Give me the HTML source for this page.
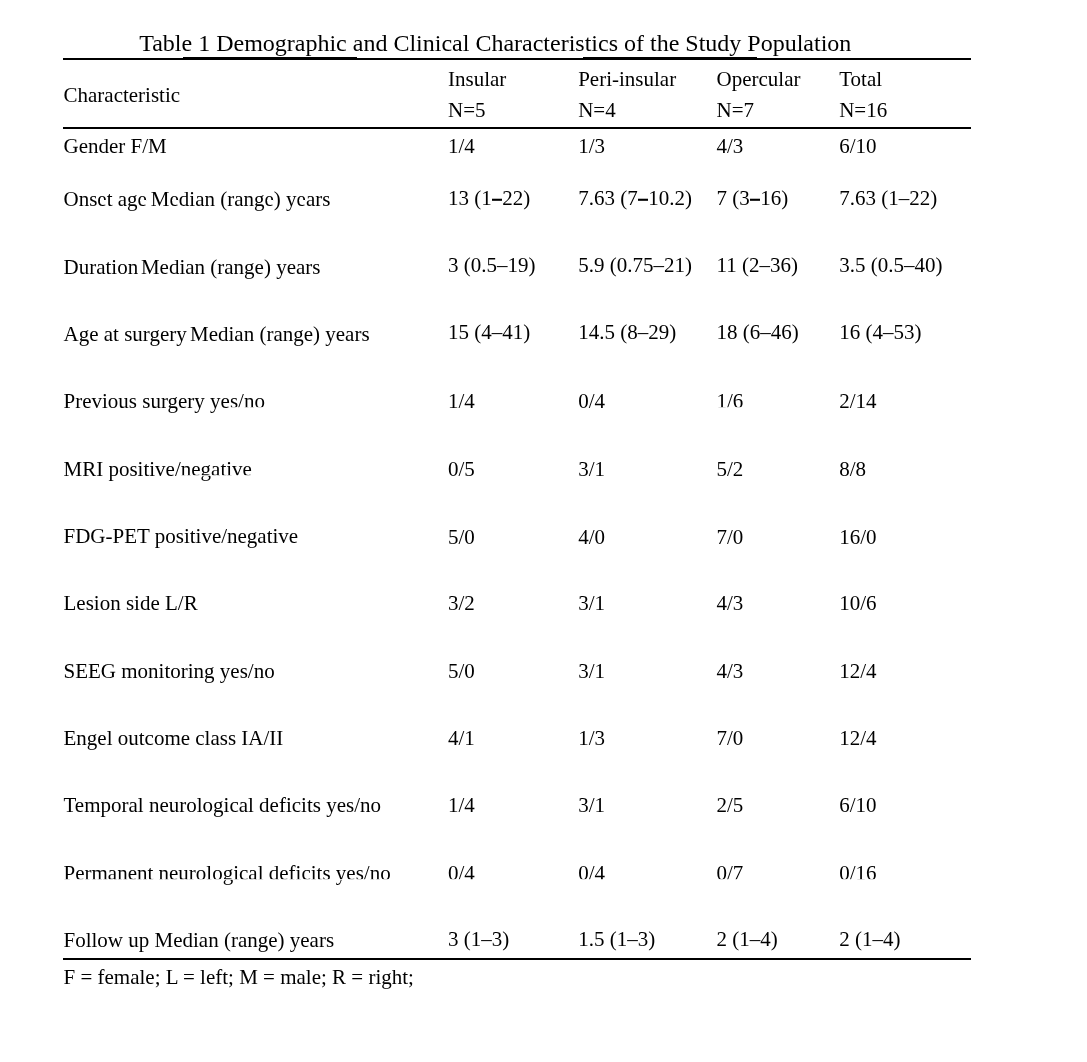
<!DOCTYPE html>
<html><head><meta charset="utf-8"><title>Table 1</title>
<style>
html,body{margin:0;padding:0;background:#fff;}
body{width:1087px;height:1062px;position:relative;overflow:hidden;will-change:transform;font-family:"Liberation Serif",serif;color:#000;}
.t{position:absolute;font-size:21px;line-height:24px;height:24px;white-space:nowrap;}
.g{display:block;transform:scaleY(1.045);transform-origin:0 19.09px;}
.title{position:absolute;font-size:24px;line-height:28px;white-space:nowrap;transform:scaleY(1.0);transform-origin:0 22.1px;}
.r{position:absolute;background:#000;}
.w{position:absolute;height:1px;background:#fff;}
s{text-decoration:none;}
.bd{display:inline-block;width:10.5px;height:1.9px;background:#000;vertical-align:4.5px;}
</style></head><body>
<div class="title" style="left:139.2px;top:29px;">Table 1 Demographic and Clinical Characteristics of the Study Population</div>
<div class="r" style="left:63px;top:58px;width:908px;height:2px;"></div>
<div class="r" style="left:183px;top:57px;width:174px;height:2px;"></div>
<div class="r" style="left:583px;top:57px;width:174px;height:2px;"></div>
<div class="r" style="left:63px;top:127px;width:908px;height:2px;"></div>
<div class="r" style="left:63px;top:958px;width:908px;height:2px;"></div>
<div class="t" style="left:63.5px;top:83.01px;"><span class="g">Characteristic</span></div>
<div class="t" style="left:448px;top:67.01px;"><span class="g">Insular</span></div>
<div class="t" style="left:448px;top:98.01px;"><span class="g">N=5</span></div>
<div class="t" style="left:578.2px;top:67.01px;"><span class="g">Peri-insular</span></div>
<div class="t" style="left:578.2px;top:98.01px;"><span class="g">N=4</span></div>
<div class="t" style="left:716.5px;top:67.01px;"><span class="g">Opercular</span></div>
<div class="t" style="left:716.5px;top:98.01px;"><span class="g">N=7</span></div>
<div class="t" style="left:839.2px;top:67.01px;"><span class="g">Total</span></div>
<div class="t" style="left:839.2px;top:98.01px;"><span class="g">N=16</span></div>
<div class="t" style="left:63.5px;top:134.01px;"><span class="g">Gender F/M</span></div>
<div class="t" style="left:448px;top:134.01px;"><span class="g">1/4</span></div>
<div class="t" style="left:578.2px;top:134.01px;"><span class="g">1/3</span></div>
<div class="t" style="left:716.5px;top:134.01px;"><span class="g">4/3</span></div>
<div class="t" style="left:839.2px;top:134.01px;"><span class="g">6/10</span></div>
<div class="t" style="left:63.5px;top:186.71px;"><span class="g">Onset age<s style='letter-spacing:-1.3px'> </s>Median (range) years</span></div>
<div class="t" style="left:448px;top:186.01px;"><span class="g">13 (1<i class='bd'></i>22)</span></div>
<div class="t" style="left:578.2px;top:186.01px;"><span class="g">7.63 (7<i class='bd'></i>10.2)</span></div>
<div class="t" style="left:716.5px;top:186.01px;"><span class="g">7 (3<i class='bd'></i>16)</span></div>
<div class="t" style="left:839.2px;top:186.01px;"><span class="g">7.63 (1–22)</span></div>
<div class="t" style="left:63.5px;top:255.11px;"><span class="g">Duration<s style='letter-spacing:-2.5px'> </s>Median (range) years</span></div>
<div class="t" style="left:448px;top:253.11px;"><span class="g">3 (0.5–19)</span></div>
<div class="t" style="left:578.2px;top:253.11px;"><span class="g">5.9 (0.75–21)</span></div>
<div class="t" style="left:716.5px;top:253.11px;"><span class="g">11 (2–36)</span></div>
<div class="t" style="left:839.2px;top:253.11px;"><span class="g">3.5 (0.5–40)</span></div>
<div class="t" style="left:63.5px;top:322.11px;"><span class="g">Age at surgery<s style='letter-spacing:-2px'> </s>Median (range) years</span></div>
<div class="t" style="left:448px;top:320.31px;"><span class="g">15 (4–41)</span></div>
<div class="t" style="left:578.2px;top:320.31px;"><span class="g">14.5 (8–29)</span></div>
<div class="t" style="left:716.5px;top:320.31px;"><span class="g">18 (6–46)</span></div>
<div class="t" style="left:839.2px;top:320.31px;"><span class="g">16 (4–53)</span></div>
<div class="t" style="left:63.5px;top:389.01px;"><span class="g">Previous surgery yes/no</span></div>
<div class="t" style="left:448px;top:389.01px;"><span class="g">1/4</span></div>
<div class="t" style="left:578.2px;top:389.01px;"><span class="g">0/4</span></div>
<div class="t" style="left:716.5px;top:389.01px;"><span class="g">1/6</span></div>
<div class="t" style="left:839.2px;top:389.01px;"><span class="g">2/14</span></div>
<div class="t" style="left:63.5px;top:456.51px;"><span class="g">MRI positive/negative</span></div>
<div class="t" style="left:448px;top:456.71px;"><span class="g">0/5</span></div>
<div class="t" style="left:578.2px;top:456.71px;"><span class="g">3/1</span></div>
<div class="t" style="left:716.5px;top:456.71px;"><span class="g">5/2</span></div>
<div class="t" style="left:839.2px;top:456.71px;"><span class="g">8/8</span></div>
<div class="t" style="left:63.5px;top:524.01px;"><span class="g">FDG-PET positive/negative</span></div>
<div class="t" style="left:448px;top:524.51px;"><span class="g">5/0</span></div>
<div class="t" style="left:578.2px;top:524.51px;"><span class="g">4/0</span></div>
<div class="t" style="left:716.5px;top:524.51px;"><span class="g">7/0</span></div>
<div class="t" style="left:839.2px;top:524.51px;"><span class="g">16/0</span></div>
<div class="t" style="left:63.5px;top:591.01px;"><span class="g">Lesion side L/R</span></div>
<div class="t" style="left:448px;top:591.01px;"><span class="g">3/2</span></div>
<div class="t" style="left:578.2px;top:591.01px;"><span class="g">3/1</span></div>
<div class="t" style="left:716.5px;top:591.01px;"><span class="g">4/3</span></div>
<div class="t" style="left:839.2px;top:591.01px;"><span class="g">10/6</span></div>
<div class="t" style="left:63.5px;top:659.01px;"><span class="g">SEEG monitoring yes/no</span></div>
<div class="t" style="left:448px;top:659.01px;"><span class="g">5/0</span></div>
<div class="t" style="left:578.2px;top:659.01px;"><span class="g">3/1</span></div>
<div class="t" style="left:716.5px;top:659.01px;"><span class="g">4/3</span></div>
<div class="t" style="left:839.2px;top:659.01px;"><span class="g">12/4</span></div>
<div class="t" style="left:63.5px;top:726.01px;"><span class="g">Engel outcome class IA/II</span></div>
<div class="t" style="left:448px;top:725.81px;"><span class="g">4/1</span></div>
<div class="t" style="left:578.2px;top:725.81px;"><span class="g">1/3</span></div>
<div class="t" style="left:716.5px;top:725.81px;"><span class="g">7/0</span></div>
<div class="t" style="left:839.2px;top:725.81px;"><span class="g">12/4</span></div>
<div class="t" style="left:63.5px;top:793.01px;"><span class="g">Temporal neurological deficits yes/no</span></div>
<div class="t" style="left:448px;top:792.51px;"><span class="g">1/4</span></div>
<div class="t" style="left:578.2px;top:792.51px;"><span class="g">3/1</span></div>
<div class="t" style="left:716.5px;top:792.51px;"><span class="g">2/5</span></div>
<div class="t" style="left:839.2px;top:792.51px;"><span class="g">6/10</span></div>
<div class="t" style="left:63.5px;top:860.51px;height:24.49px;overflow:hidden;"><span class="g">Permanent neurological deficits yes/no</span></div>
<div class="t" style="left:448px;top:860.51px;height:24.49px;overflow:hidden;"><span class="g">0/4</span></div>
<div class="t" style="left:578.2px;top:860.51px;height:24.49px;overflow:hidden;"><span class="g">0/4</span></div>
<div class="t" style="left:716.5px;top:860.51px;height:24.49px;overflow:hidden;"><span class="g">0/7</span></div>
<div class="t" style="left:839.2px;top:860.51px;height:24.49px;overflow:hidden;"><span class="g">0/16</span></div>
<div class="t" style="left:63.5px;top:927.51px;"><span class="g">Follow up Median (range) years</span></div>
<div class="t" style="left:448px;top:927.01px;"><span class="g">3 (1–3)</span></div>
<div class="t" style="left:578.2px;top:927.01px;"><span class="g">1.5 (1–3)</span></div>
<div class="t" style="left:716.5px;top:927.01px;"><span class="g">2 (1–4)</span></div>
<div class="t" style="left:839.2px;top:927.01px;"><span class="g">2 (1–4)</span></div>
<div class="t" style="left:63.5px;top:965.01px;"><span class="g">F = female; L = left; M = male; R = right;</span></div>
<div class="w" style="left:100px;top:200px;width:5.8px;opacity:1;"></div>
<div class="w" style="left:140px;top:200px;width:6px;opacity:1;"></div>
<div class="w" style="left:172px;top:200px;width:6px;opacity:1;"></div>
<div class="w" style="left:267px;top:200px;width:6px;opacity:1;"></div>
<div class="w" style="left:299px;top:200px;width:6px;opacity:1;"></div>
<div class="w" style="left:63px;top:879px;width:908px;opacity:0.8;"></div>
<div class="w" style="left:229px;top:407px;width:38px;opacity:0.8;"></div>
<div class="w" style="left:715px;top:407px;width:32px;opacity:0.8;"></div>
<div class="w" style="left:178px;top:475px;width:78px;opacity:0.8;"></div>
</body></html>
